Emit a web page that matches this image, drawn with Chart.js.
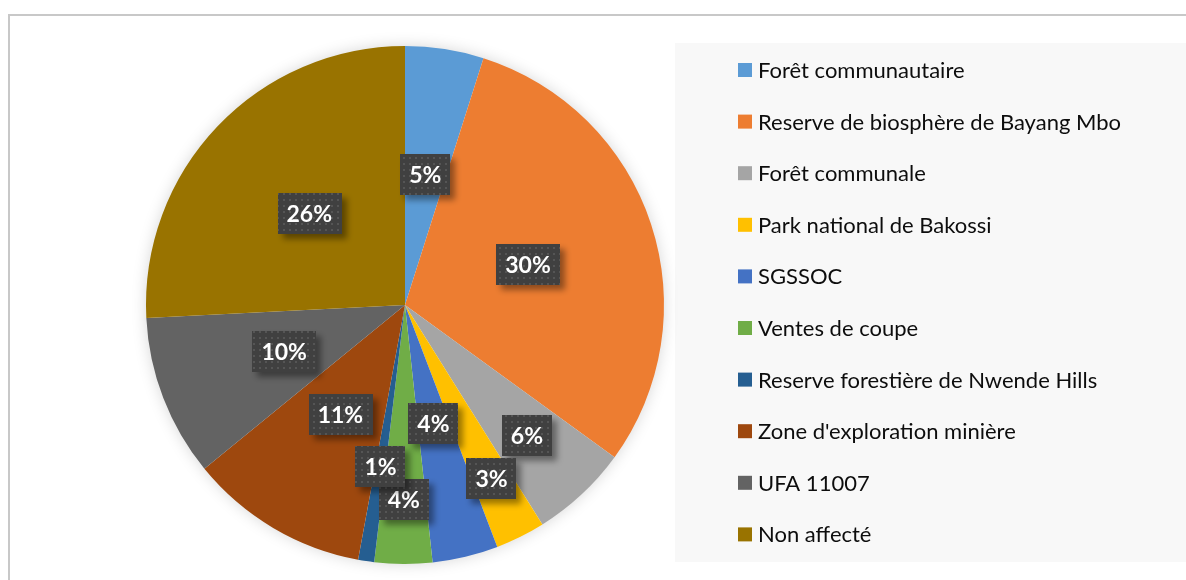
<!DOCTYPE html>
<html lang="fr">
  <head>
    <meta charset="UTF-8" />
    <title>Répartition des terres</title>
    <script src="https://cdn.jsdelivr.net/npm/chart.js"></script>
    <style>
      html, body { margin: 0; padding: 0; background: #ffffff; }
      #wrap { width: 1186px; height: 580px; position: relative; }
    </style>
  </head>
  <body>
    <div id="wrap"><canvas id="pieChart" width="1186" height="580"></canvas></div>

    <script>
      // categories and shares (%)
      const categories = [
        "Forêt communautaire",
        "Reserve de biosphère de Bayang Mbo",
        "Forêt communale",
        "Park national de Bakossi",
        "SGSSOC",
        "Ventes de coupe",
        "Reserve forestière de Nwende Hills",
        "Zone d'exploration minière",
        "UFA 11007",
        "Non affecté",
      ];
      const shares = [4.9, 30.1, 6.1, 3.1, 4.1, 3.6, 1.0, 11.2, 10.1, 25.8];
      const sliceColors = [
        "#5B9BD5", "#ED7D31", "#A5A5A5", "#FFC000", "#4472C4",
        "#70AD47", "#255E91", "#9E480E", "#636363", "#997300",
      ];
      // how far out along the radius each data label sits (Excel "best fit")
      const labelRadius = [0.51, 0.5, 0.69, 0.75, 0.47, 0.75, 0.63, 0.49, 0.5, 0.51];

      // small dotted fill like the Excel label pattern
      function makePattern() {
        const c = document.createElement("canvas");
        c.width = 6;
        c.height = 6;
        const g = c.getContext("2d");
        g.fillStyle = "#404040";
        g.fillRect(0, 0, 6, 6);
        g.fillStyle = "#555555";
        g.fillRect(1, 1, 2, 2);
        return g.createPattern(c, "repeat");
      }

      const framePlugin = {
        id: "frame",
        beforeDraw(chart) {
          const ctx = chart.ctx;
          ctx.save();
          // outer border (top + left only visible)
          ctx.strokeStyle = "#C8C8C8";
          ctx.lineWidth = 2;
          ctx.beginPath();
          ctx.moveTo(9, 580);
          ctx.lineTo(9, 15);
          ctx.lineTo(1186, 15);
          ctx.stroke();
          // legend panel
          ctx.fillStyle = "#F8F8F8";
          ctx.fillRect(675, 43, 511, 519);
          ctx.restore();
        },
        beforeDatasetsDraw(chart) {
          // soft shadow behind the pie
          const arc = chart.getDatasetMeta(0).data[0];
          if (!arc) return;
          const ctx = chart.ctx;
          ctx.save();
          ctx.shadowColor = "rgba(0,0,0,0.18)";
          ctx.shadowBlur = 16;
          ctx.fillStyle = "#ffffff";
          ctx.beginPath();
          ctx.arc(arc.x, arc.y, arc.outerRadius - 1, 0, Math.PI * 2);
          ctx.fill();
          ctx.restore();
        },
        afterDatasetsDraw(chart) {
          const ctx = chart.ctx;
          const meta = chart.getDatasetMeta(0);
          const pat = makePattern();
          ctx.save();
          ctx.font = "bold 23px Lato";
          ctx.textAlign = "center";
          ctx.textBaseline = "middle";
          meta.data.forEach((arc, i) => {
            const mid = (arc.startAngle + arc.endAngle) / 2;
            const r = arc.outerRadius * labelRadius[i];
            const x = arc.x + Math.cos(mid) * r;
            const y = arc.y + Math.sin(mid) * r;
            const txt = Math.round(shares[i]) + "%";
            const w = ctx.measureText(txt).width + 18;
            const h = 41;
            ctx.save();
            ctx.shadowColor = "rgba(0,0,0,0.4)";
            ctx.shadowBlur = 6;
            ctx.shadowOffsetX = 5;
            ctx.shadowOffsetY = 5;
            ctx.fillStyle = pat;
            ctx.fillRect(Math.round(x - w / 2), Math.round(y - h / 2), Math.round(w), h);
            ctx.restore();
            ctx.fillStyle = "#ffffff";
            ctx.fillText(txt, x, y + 1);
          });
          ctx.restore();

          // legend
          ctx.save();
          ctx.font = "22px Lato";
          ctx.textAlign = "left";
          ctx.textBaseline = "middle";
          categories.forEach((name, i) => {
            const cy = 70 + i * 51.6;
            ctx.fillStyle = sliceColors[i];
            ctx.fillRect(738, cy - 7, 14, 14);
            ctx.fillStyle = "#0D0D0D";
            ctx.fillText(name, 758, cy + 1);
          });
          ctx.restore();
        },
      };

      new Chart(document.getElementById("pieChart"), {
        type: "pie",
        data: {
          labels: categories,
          datasets: [
            {
              data: shares,
              backgroundColor: sliceColors,
              borderWidth: 0,
            },
          ],
        },
        options: {
          responsive: false,
          animation: false,
          layout: { padding: { left: 146, right: 522, top: 46, bottom: 16 } },
          plugins: {
            legend: { display: false },
            tooltip: { enabled: false },
          },
        },
        plugins: [framePlugin],
      });
    </script>
  </body>
</html>
